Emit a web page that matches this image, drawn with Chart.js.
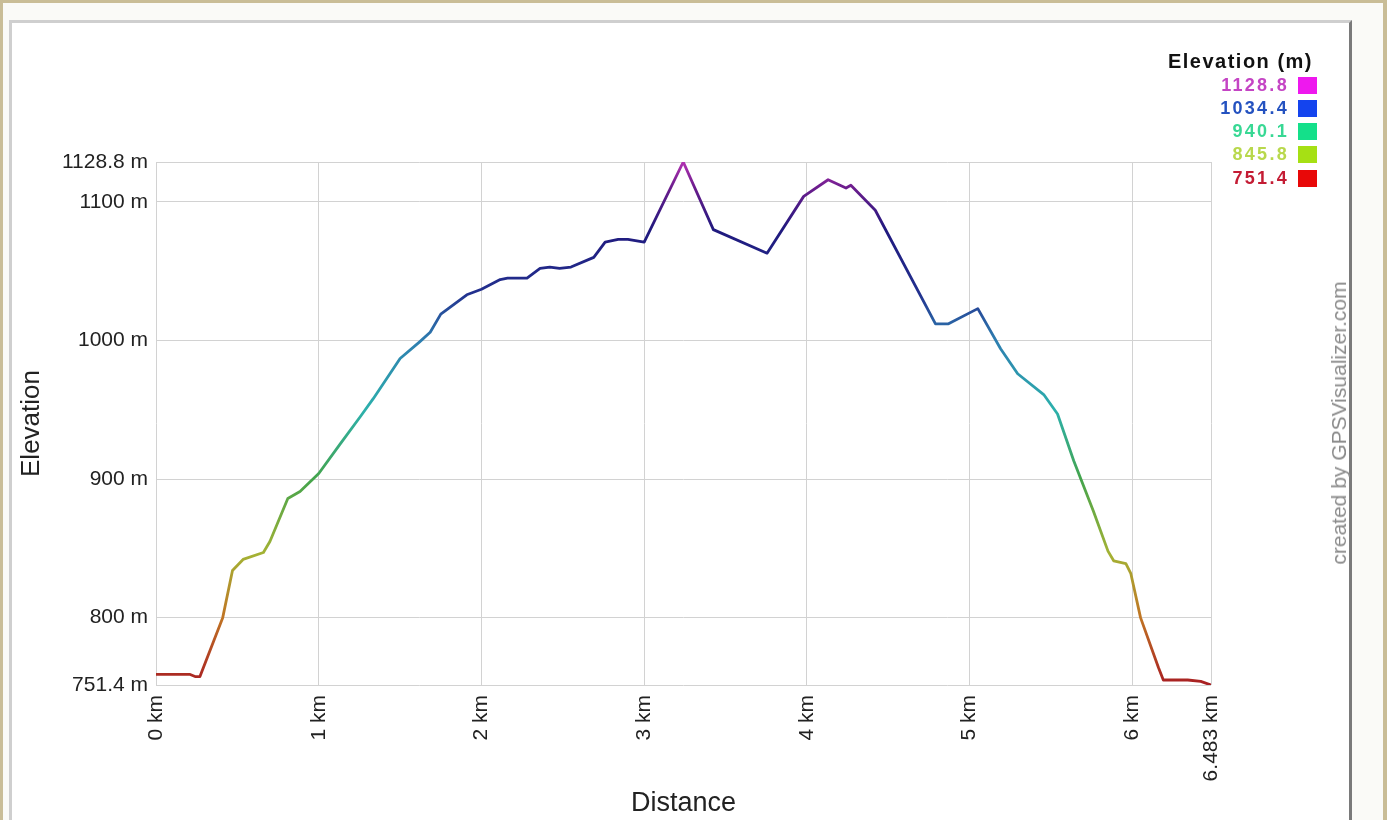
<!DOCTYPE html>
<html>
<head>
<meta charset="utf-8">
<script src="https://cdn.jsdelivr.net/npm/chart.js@4/dist/chart.umd.min.js"></script>
<style>
  html, body { margin:0; padding:0; }
  body { width:1387px; height:820px; overflow:hidden; position:relative; background:#c9bd97; font-family:"Liberation Sans", Arial, sans-serif; }
  #inner { position:absolute; left:3px; top:3px; width:1380px; height:830px; background:#fafaf7; }
  #panel { position:absolute; left:9px; top:20px; width:1343px; height:820px; background:#fff; border-left:3px solid #cfcfcf; border-top:3px solid #cfcfcf; border-right:3px solid #7a7a7a; box-sizing:border-box; }
  #c { position:absolute; left:0; top:0; }
  .lg { position:absolute; font-weight:bold; text-align:right; white-space:nowrap; }
  #lgTitle { right:74px; top:50px; font-size:20px; letter-spacing:1.5px; color:#111; }
  .val { position:absolute; right:98px; font-size:18px; font-weight:bold; letter-spacing:2.3px; white-space:nowrap; line-height:20px; }
  .sq { position:absolute; left:1298px; width:19px; height:17px; }
  #credit { position:absolute; left:1339px; top:423px; transform:translate(-50%,-50%) rotate(-90deg); font-size:21px; color:#8a8a8a; white-space:nowrap; }
</style>
</head>
<body>
<div id="inner"></div>
<div id="panel"></div>
<canvas id="c" width="1387" height="820"></canvas>
<div class="lg" id="lgTitle">Elevation (m)</div>
<div id="legend"></div>
<div id="credit">created by GPSVisualizer.com</div>
<script>
// ---- data ----
const distanceKm = [0, 0.21, 0.24, 0.27, 0.41, 0.47, 0.535, 0.66, 0.70, 0.81, 0.885, 1.0, 1.13, 1.255, 1.335, 1.5, 1.62, 1.685, 1.75, 1.91, 2.0, 2.115, 2.16, 2.28, 2.36, 2.42, 2.48, 2.55, 2.69, 2.76, 2.84, 2.90, 3.0, 3.24, 3.425, 3.755, 3.98, 4.13, 4.24, 4.27, 4.42, 4.79, 4.87, 5.05, 5.19, 5.295, 5.455, 5.54, 5.64, 5.76, 5.85, 5.885, 5.96, 5.99, 6.05, 6.16, 6.19, 6.34, 6.42, 6.483];
const elevationM = [759, 759, 757.5, 757.5, 800, 834, 842, 847, 855, 886, 891, 904, 925, 945, 958, 987, 999, 1006, 1019, 1033, 1037, 1044, 1045, 1045, 1052, 1053, 1052, 1053, 1060, 1071, 1073, 1073, 1071, 1128.8, 1080, 1063, 1104, 1116, 1110, 1112, 1094, 1012, 1012, 1023, 994, 976, 961, 947, 913, 877, 848, 841, 839, 832, 800, 764, 755, 755, 754, 751.4];
const xTickValues = [0, 1, 2, 3, 4, 5, 6, 6.483];
const yTickValues = [751.4, 800, 900, 1000, 1100, 1128.8];
const legendValues = [1128.8, 1034.4, 940.1, 845.8, 751.4];
const legendSwatch = ['#ee18ee', '#1444ee', '#14e08a', '#a6e014', '#e80808'];
const legendText = ['#c444c4', '#2452c0', '#38d894', '#b8d84c', '#c41c34'];
// line colour ramp (elevation -> colour), as seen on the drawn profile
const rampElev = [751.4, 800, 845.8, 900, 950, 1000, 1034.4, 1080, 1110, 1128.8];
const rampColor = ['#a81e22', '#c07424', '#a4b234', '#44a44c', '#2cb0ac', '#2e7eb0', '#22308e', '#20197e', '#6a1c8c', '#b232b2'];

const eMin = 751.4, eMax = 1128.8;

// legend (HTML text)
const legend = document.getElementById('legend');
legendValues.forEach((v, i) => {
  const yc = 84.5 + i * 23.3;
  const d = document.createElement('div');
  d.className = 'val';
  d.style.top = (yc - 10) + 'px';
  d.style.color = legendText[i];
  d.textContent = v.toFixed(1);
  legend.appendChild(d);
  const s = document.createElement('div');
  s.className = 'sq';
  s.style.top = (yc - 8) + 'px';
  s.style.background = legendSwatch[i];
  legend.appendChild(s);
});

let cachedGrad = null, cachedKey = '';
function elevGradient(context) {
  const chart = context.chart;
  const area = chart.chartArea;
  if (!area) return rampColor[6];
  const y = chart.scales.y;
  const y0 = y.getPixelForValue(eMin), y1 = y.getPixelForValue(eMax);
  const key = y0 + '_' + y1;
  if (cachedGrad && cachedKey === key) return cachedGrad;
  const g = chart.ctx.createLinearGradient(0, y0, 0, y1);
  rampElev.forEach((e, i) => g.addColorStop((e - eMin) / (eMax - eMin), rampColor[i]));
  cachedGrad = g; cachedKey = key;
  return g;
}

const pts = distanceKm.map((x, i) => ({ x: x, y: elevationM[i] }));
const font = { family: '"Liberation Sans", Arial, sans-serif' };

new Chart(document.getElementById('c'), {
  type: 'line',
  data: { datasets: [{
    data: pts,
    borderWidth: 2.8,
    pointRadius: 0,
    tension: 0,
    borderJoinStyle: 'round',
    borderColor: elevGradient
  }]},
  options: {
    responsive: false,
    animation: false,
    devicePixelRatio: 1,
    layout: { padding: { left: 13, top: 162, right: 176, bottom: 0 } },
    plugins: { legend: { display: false }, tooltip: { enabled: false } },
    scales: {
      x: {
        type: 'linear', min: 0, max: 6.483,
        afterBuildTicks: s => { s.ticks = xTickValues.map(v => ({ value: v })); },
        afterFit: s => { s.height = 135; },
        ticks: {
          autoSkip: false, minRotation: 90, maxRotation: 90, padding: 10,
          color: '#222', font: Object.assign({ size: 21 }, font),
          callback: v => v + ' km'
        },
        grid: { color: '#d2d2d2', lineWidth: 1, drawTicks: false },
        border: { display: false },
        title: { display: true, text: 'Distance', color: '#222', font: Object.assign({ size: 27 }, font), padding: { top: 0, bottom: 0 } }
      },
      y: {
        type: 'linear', min: eMin, max: eMax,
        afterBuildTicks: s => { s.ticks = yTickValues.map(v => ({ value: v })); },
        afterFit: s => { s.width = 143; },
        ticks: {
          autoSkip: false, padding: 8,
          color: '#222', font: Object.assign({ size: 21 }, font),
          callback: v => v + ' m'
        },
        grid: { color: '#d2d2d2', lineWidth: 1, drawTicks: false },
        border: { display: false },
        title: { display: true, text: 'Elevation', color: '#222', font: Object.assign({ size: 26 }, font), padding: { top: 3, bottom: 4 } }
      }
    }
  }
});
</script>
</body>
</html>
